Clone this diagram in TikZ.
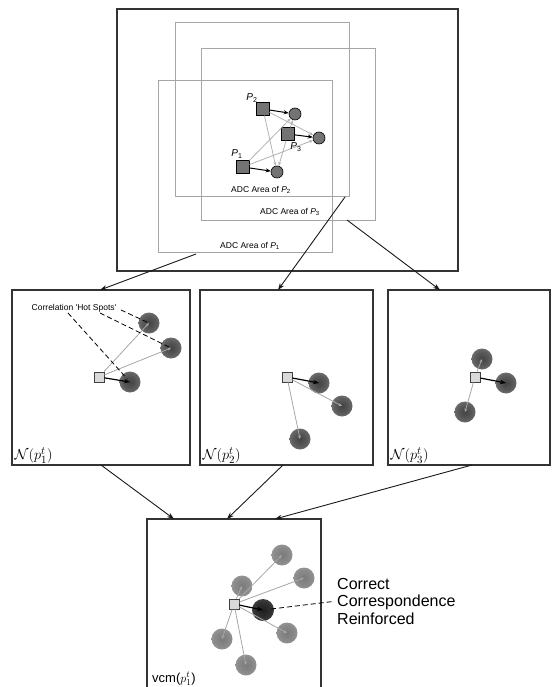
\documentclass[tikz,border=0pt]{standalone}
\usepackage[no-math]{fontspec}
\setmainfont{Liberation Sans}
\usetikzlibrary{arrows.meta}
\pgfdeclareradialshading{spotA}{\pgfpoint{0bp}{0bp}}{color(0bp)=(black!74); color(18bp)=(black!64); color(38bp)=(black!46); color(50bp)=(black!26)}
\pgfdeclareradialshading{spotB}{\pgfpoint{0bp}{0bp}}{color(0bp)=(black!52); color(18bp)=(black!46); color(38bp)=(black!35); color(50bp)=(black!20)}
\pgfdeclareradialshading{spotC}{\pgfpoint{0bp}{0bp}}{color(0bp)=(black!88); color(20bp)=(black!80); color(38bp)=(black!62); color(50bp)=(black!40)}
\begin{document}
\begin{tikzpicture}[x=1pt,y=-1pt,
  frame/.style={draw=black!80, line width=1.2pt, rectangle, inner sep=0pt},
  adc/.style={draw=black!35, line width=0.9pt},
  conn/.style={draw=black!90, line width=0.9pt, -{Stealth[length=7pt,width=5pt]}},
  tsq/.style={rectangle, draw=black, fill=black!55, minimum size=12.5pt, inner sep=0pt, line width=0.6pt},
  tci/.style={circle, draw=black, fill=black!55, minimum size=12pt, inner sep=0pt, line width=0.6pt},
  tg/.style={draw=black!30, line width=0.8pt, -{Stealth[length=4pt,width=3pt]}},
  tb/.style={draw=black, line width=1pt, -{Stealth[length=5pt,width=4pt]}},
  msq/.style={rectangle, draw=black!75, fill=black!15, minimum size=10pt, inner sep=0pt, line width=0.8pt},
  spot/.style={circle, shade, shading=spotA, minimum size=21pt, inner sep=0pt},
  lspot/.style={circle, shade, shading=spotB, minimum size=21pt, inner sep=0pt},
  dspot/.style={circle, shade, shading=spotC, minimum size=22pt, inner sep=0pt},
  mg/.style={draw=black!35, line width=0.8pt, -{Stealth[length=3.5pt,width=3pt]}},
  mb/.style={draw=black, line width=1.2pt, -{Stealth[length=6pt,width=4.5pt]}},
  hot/.style={draw=black, line width=0.8pt, dash pattern=on 5pt off 3pt},
  small/.style={font=\fontsize{8.5}{10}\selectfont, inner sep=1pt},
  plab/.style={font=\fontsize{10}{12}\selectfont, inner sep=1pt},
  nlab/.style={font=\fontsize{15}{17}\selectfont, inner sep=1pt, anchor=south west},
]
\useasboundingbox (0,0) rectangle (552,687);

% ---------- top frame ----------
\node[frame, minimum width=341pt, minimum height=262pt] (top) at (287.5,140) {};
\draw[adc] (175,22) rectangle (349,196);
\draw[adc] (201,48) rectangle (375,220);
\draw[adc] (158,80) rectangle (332,252);
\node[small] (l2) at (261,190) {ADC Area of {\itshape P}\textsubscript{2}};
\node[small] (l3) at (290,212) {ADC Area of {\itshape P}\textsubscript{3}};
\node[small] (l1) at (250,246) {ADC Area of {\itshape P}\textsubscript{1}};

\node[tci] (c1) at (277,172) {};
\node[tci] (c2) at (295,114) {};
\node[tci] (c3) at (319,138) {};
\node[tsq] (s1) at (243,167) {};
\node[tsq] (s2) at (263,109) {};
\node[tsq] (s3) at (288,134) {};
\draw[tg] (s1) -- (c2);
\draw[tg] (s1) -- (c3);
\draw[tg] (s2) -- (c1);
\draw[tg] (s2) -- (c3);
\draw[tg] (s3) -- (c1);
\draw[tg] (s3) -- (c2);
\draw[tb] (s1) -- (c1);
\draw[tb] (s2) -- (c2);
\draw[tb] (s3) -- (c3);
\node[plab] (p1) at (237,154) {{\itshape P}\textsubscript{1}};
\node[plab] (p2) at (252,98) {{\itshape P}\textsubscript{2}};
\node[plab] (p3) at (296,147) {{\itshape P}\textsubscript{3}};

% ---------- middle panels ----------
\node[frame, minimum width=178pt, minimum height=175pt] (n1) at (101,377.5) {};
\node[frame, minimum width=173pt, minimum height=175pt] (n2) at (286.5,377.5) {};
\node[frame, minimum width=162pt, minimum height=175pt] (n3) at (469,377.5) {};

\coordinate (a1) at (196,254);
\coordinate (a2) at (345,197);
\coordinate (a3) at (347,220);
\coordinate (e1) at (100,290);
\coordinate (e2) at (278,290);
\coordinate (e3) at (440,290);
\draw[conn] (a1) -- (e1);
\draw[conn] (a2) -- (e2);
\draw[conn] (a3) -- (e3);

% panel 1
\node[spot] (h1) at (130,382) {};
\node[spot] (h2) at (149,323) {};
\node[spot] (h3) at (171,348) {};
\node[msq] (q1) at (99,377) {};
\draw[mg] (q1) -- (h2.center);
\draw[mg] (q1) -- (h3.center);
\draw[mb] (q1) -- (h1.center);
\node[small] (hs) at (74,308) {Correlation \textquotesingle Hot Spots\textquotesingle};
\coordinate (hsa) at (121,310);
\coordinate (hsb) at (100,313);
\coordinate (hsc) at (68,313);
\draw[hot, shorten >=2pt] (hsa) -- (h2.center);
\draw[hot, shorten >=2pt] (hsb) -- (h3.center);
\draw[hot, shorten >=4pt] (hsc) -- (h1.center);
\node[nlab] (ln1) at ([xshift=2pt,yshift=1pt]n1.south west) {$\mathcal{N}(p_1^t)$};

% panel 2
\node[spot] (k1) at (319,383) {};
\node[spot] (k2) at (342,406) {};
\node[spot] (k3) at (300,439) {};
\node[msq] (q2) at (287,377) {};
\draw[mg] (q2) -- (k2.center);
\draw[mg] (q2) -- (k3.center);
\draw[mb] (q2) -- (k1.center);
\node[nlab] (ln2) at ([xshift=2pt,yshift=1pt]n2.south west) {$\mathcal{N}(p_2^t)$};

% panel 3
\node[spot] (j1) at (506,383) {};
\node[spot] (j2) at (482,359) {};
\node[spot] (j3) at (465,412) {};
\node[msq] (q3) at (475,377) {};
\draw[mg] (q3) -- (j2.center);
\draw[mg] (q3) -- (j3.center);
\draw[mb] (q3) -- (j1.center);
\node[nlab] (ln3) at ([xshift=2pt,yshift=1pt]n3.south west) {$\mathcal{N}(p_3^t)$};

% ---------- bottom panel ----------
\node[frame, minimum width=174pt, minimum height=181pt] (bp) at (234,609.5) {};
\coordinate (b1s) at (101,465);
\coordinate (b2s) at (283,465);
\coordinate (b3s) at (472,465);
\coordinate (b1e) at (174,519);
\coordinate (b2e) at (227,519);
\coordinate (b3e) at (275,519);
\draw[conn] (b1s) -- (b1e);
\draw[conn] (b2s) -- (b2e);
\draw[conn] (b3s) -- (b3e);

\node[lspot] (v1) at (282,555) {};
\node[lspot] (v2) at (304,578) {};
\node[lspot] (v3) at (242,586) {};
\node[lspot] (v4) at (287,633) {};
\node[lspot] (v5) at (222,639) {};
\node[lspot] (v6) at (246,665) {};
\node[dspot] (vd) at (263,610) {};
\node[msq] (q4) at (234,604) {};
\foreach \v in {v1,v2,v3,v4,v5,v6} \draw[mg] (q4) -- (\v.center);
\draw[mb] (q4) -- (vd.center);
\node[font=\fontsize{16}{17.5}\selectfont, align=left, anchor=west, inner sep=0pt] (cc) at (337,601) {Correct\\Correspondence\\Reinforced};
\draw[hot, shorten <=8pt, shorten >=4pt] (vd.center) -- (cc.west);
\node[font=\fontsize{13}{15}\selectfont, anchor=base west, inner sep=0pt] (lv) at (152,682) {vcm($p_1^t$)};
\end{tikzpicture}
\end{document}
